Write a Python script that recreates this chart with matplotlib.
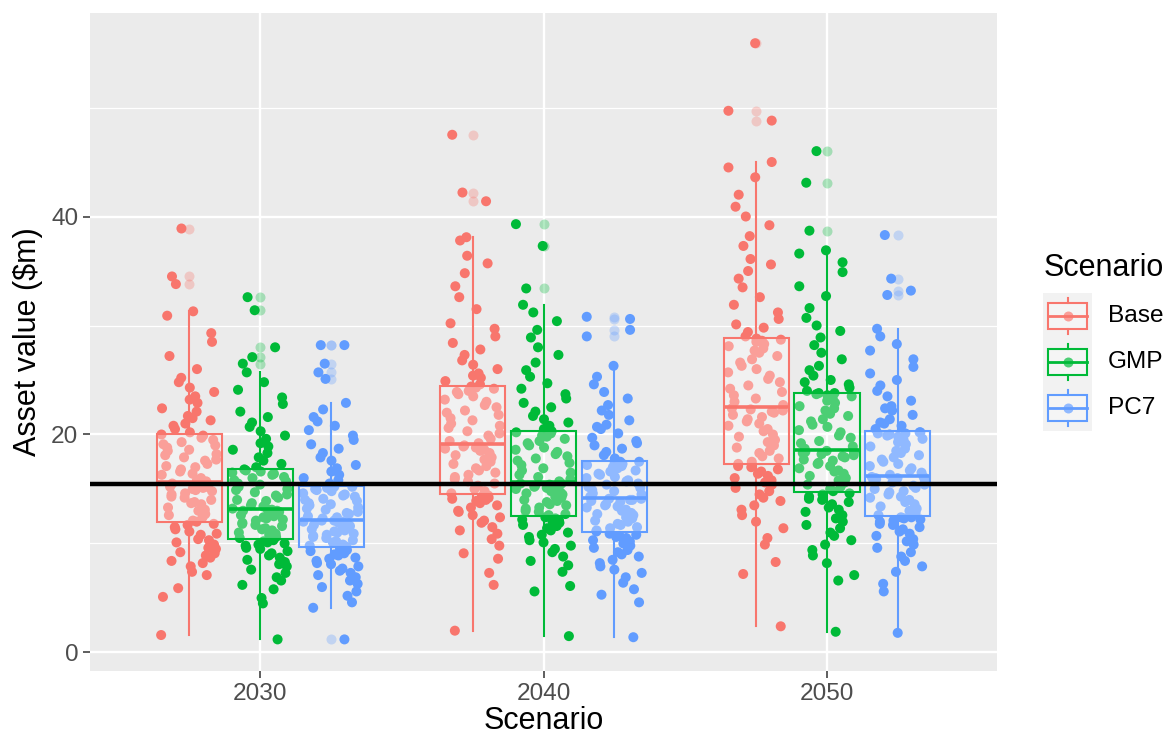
import numpy as np
import matplotlib
matplotlib.use('Agg')
import matplotlib.pyplot as plt
from matplotlib.patches import Rectangle

plt.rcParams['font.family'] = ['Liberation Sans', 'DejaVu Sans']

# ---- data ----
years = ['2030', '2040', '2050']
scenarios = ['Base', 'GMP', 'PC7']
colors = ['#F8766D', '#00BA38', '#619CFF']
threshold = 15.5

base_2030 = [1.6, 5.1, 5.9, 7.1, 7.4, 7.9, 8.2, 8.4, 8.7, 8.9, 9.1, 9.2, 9.5, 9.6, 9.9, 10.1, 10.3, 10.4, 10.8, 10.9,
             11.1, 11.3, 11.5, 11.7, 11.8, 12.0, 12.1, 12.4, 12.6, 12.7, 13.0, 13.1, 13.3, 13.6, 13.7, 13.8, 14.0, 14.2,
             14.3, 14.5, 14.6, 14.8, 14.9, 15.0, 15.1, 15.2, 15.2, 15.3, 15.4, 15.5, 15.7, 15.8, 16.0, 16.3, 16.4, 16.6,
             16.8, 17.0, 17.1, 17.3, 17.6, 17.7, 17.9, 18.1, 18.2, 18.5, 18.6, 18.8, 19.0, 19.1, 19.3, 19.5, 19.7, 19.9,
             20.0, 20.2, 20.5, 20.8, 21.0, 21.3, 21.5, 21.7, 22.1, 22.4, 22.9, 23.2, 23.5, 23.9, 24.3, 24.8, 25.2, 26.0,
             27.2, 28.5, 29.3, 30.9, 31.3, 33.8, 34.5, 38.9]
base_2040 = [2.0, 6.2, 7.3, 8.6, 9.1, 9.8, 10.4, 10.9, 11.2, 11.5, 11.9, 12.1, 12.4, 12.6, 12.9, 13.0, 13.3, 13.5, 13.7,
             13.9, 14.0, 14.1, 14.2, 14.3, 14.4, 14.6, 14.8, 15.0, 15.3, 15.5, 15.7, 15.9, 16.1, 16.3, 16.5, 16.7, 16.9,
             17.1, 17.3, 17.5, 17.7, 17.9, 18.1, 18.3, 18.5, 18.6, 18.7, 18.8, 18.9, 19.0, 19.2, 19.4, 19.6, 19.9, 20.1,
             20.3, 20.6, 20.8, 21.0, 21.3, 21.5, 21.8, 22.0, 22.2, 22.5, 22.7, 23.0, 23.2, 23.5, 23.7, 23.9, 24.0, 24.2,
             24.3, 24.4, 24.6, 24.9, 25.2, 25.4, 25.6, 26.0, 26.4, 26.8, 27.3, 27.8, 28.4, 29.0, 29.7, 30.2, 31.5, 32.6,
             33.6, 34.8, 35.7, 36.4, 37.8, 38.1, 41.4, 42.2, 47.5]
base_2050 = [2.4, 7.2, 8.3, 9.9, 10.5, 11.4, 12.0, 12.6, 13.1, 13.5, 13.9, 14.2, 14.5, 14.8, 15.1, 15.4, 15.6, 15.8, 16.0,
             16.2, 16.4, 16.6, 16.8, 17.0, 17.1, 17.3, 17.5, 17.8, 18.0, 18.3, 18.5, 18.8, 19.0, 19.3, 19.5, 19.8, 20.0,
             20.3, 20.5, 20.8, 21.0, 21.2, 21.4, 21.6, 21.8, 22.0, 22.1, 22.2, 22.3, 22.4, 22.7, 23.0, 23.3, 23.6, 23.9,
             24.2, 24.5, 24.8, 25.1, 25.4, 25.7, 26.0, 26.3, 26.6, 26.9, 27.2, 27.5, 27.7, 27.9, 28.1, 28.3, 28.5, 28.6,
             28.7, 28.8, 29.0, 29.4, 29.8, 30.1, 30.6, 31.2, 31.9, 32.6, 33.5, 34.3, 35.0, 35.6, 36.1, 37.3, 38.2, 39.2,
             40.0, 40.9, 42.0, 43.6, 44.5, 45.0, 48.8, 49.7, 55.9]
gmp_2030 = [1.2, 4.5, 5.0, 5.8, 6.2, 6.6, 6.9, 7.3, 7.6, 7.9, 8.1, 8.3, 8.5, 8.7, 8.9, 9.1, 9.3, 9.5, 9.6, 9.8, 9.9,
            10.0, 10.1, 10.2, 10.3, 10.5, 10.6, 10.8, 10.9, 11.0, 11.2, 11.3, 11.4, 11.6, 11.7, 11.8, 11.9, 12.1, 12.2,
            12.3, 12.4, 12.5, 12.6, 12.7, 12.8, 12.9, 13.0, 13.0, 13.1, 13.1, 13.2, 13.4, 13.5, 13.7, 13.9, 14.0, 14.2,
            14.4, 14.5, 14.7, 14.9, 15.0, 15.2, 15.4, 15.5, 15.7, 15.8, 16.0, 16.1, 16.3, 16.4, 16.5, 16.6, 16.7, 16.8,
            17.0, 17.3, 17.6, 17.9, 18.3, 18.6, 18.9, 19.2, 19.6, 19.9, 20.3, 20.7, 21.1, 21.6, 22.1, 22.8, 23.4, 24.1,
            24.8, 25.7, 26.5, 27.1, 28.0, 31.4, 32.6]
gmp_2040 = [1.5, 5.6, 6.1, 7.4, 8.0, 8.4, 8.8, 9.2, 9.5, 9.8, 10.1, 10.3, 10.6, 10.8, 11.0, 11.2, 11.4, 11.6, 11.7, 11.9,
            12.0, 12.1, 12.2, 12.3, 12.4, 12.6, 12.7, 12.9, 13.0, 13.2, 13.3, 13.5, 13.6, 13.8, 13.9, 14.0, 14.2, 14.3,
            14.5, 14.6, 14.7, 14.8, 14.9, 15.0, 15.1, 15.2, 15.3, 15.4, 15.5, 15.5, 15.7, 15.9, 16.1, 16.3, 16.5, 16.7,
            16.9, 17.2, 17.4, 17.6, 17.8, 18.0, 18.2, 18.4, 18.6, 18.8, 19.0, 19.2, 19.4, 19.6, 19.8, 19.9, 20.1, 20.2,
            20.3, 20.5, 20.8, 21.1, 21.4, 21.7, 22.1, 22.5, 22.9, 23.3, 23.7, 24.2, 24.7, 25.3, 25.9, 26.6, 27.3, 28.0,
            28.9, 29.6, 30.4, 31.2, 31.9, 33.4, 37.3, 39.3]
gmp_2050 = [1.9, 6.6, 7.1, 8.2, 8.9, 9.4, 9.9, 10.3, 10.7, 11.0, 11.4, 11.7, 12.0, 12.3, 12.6, 12.9, 13.1, 13.3, 13.6,
            13.8, 14.0, 14.1, 14.3, 14.5, 14.6, 14.8, 15.0, 15.2, 15.4, 15.6, 15.8, 16.0, 16.2, 16.4, 16.6, 16.7, 16.9,
            17.1, 17.3, 17.4, 17.6, 17.7, 17.9, 18.0, 18.1, 18.2, 18.3, 18.4, 18.4, 18.5, 18.7, 18.9, 19.2, 19.4, 19.7,
            19.9, 20.2, 20.4, 20.7, 20.9, 21.2, 21.4, 21.7, 21.9, 22.2, 22.4, 22.6, 22.9, 23.1, 23.3, 23.5, 23.6, 23.7,
            23.8, 23.8, 24.0, 24.3, 24.6, 24.8, 25.0, 25.4, 25.9, 26.3, 26.9, 27.5, 28.2, 28.9, 29.5, 30.0, 30.7, 31.6,
            32.7, 33.6, 34.9, 35.8, 36.6, 36.9, 38.7, 43.1, 46.0]
pc7_2030 = [1.2, 4.1, 4.6, 5.2, 5.6, 6.0, 6.3, 6.6, 6.9, 7.1, 7.3, 7.5, 7.7, 7.9, 8.1, 8.2, 8.4, 8.6, 8.7, 8.9, 9.0, 9.1,
            9.3, 9.4, 9.5, 9.7, 9.8, 9.9, 10.1, 10.2, 10.3, 10.5, 10.6, 10.7, 10.8, 10.9, 11.0, 11.1, 11.2, 11.3, 11.4,
            11.5, 11.6, 11.7, 11.8, 11.9, 12.0, 12.0, 12.1, 12.1, 12.3, 12.4, 12.5, 12.7, 12.8, 12.9, 13.1, 13.2, 13.3,
            13.5, 13.6, 13.7, 13.9, 14.0, 14.1, 14.3, 14.4, 14.5, 14.6, 14.8, 14.9, 15.0, 15.1, 15.2, 15.2, 15.5, 15.8,
            16.0, 16.3, 16.6, 16.9, 17.2, 17.6, 17.9, 18.3, 18.7, 19.1, 19.5, 19.9, 20.4, 20.8, 21.2, 21.6, 22.3, 22.9,
            25.1, 25.7, 26.5, 28.2, 28.2]
pc7_2040 = [1.4, 4.6, 5.3, 5.8, 6.4, 6.9, 7.3, 7.6, 7.9, 8.2, 8.5, 8.8, 9.0, 9.2, 9.4, 9.6, 9.8, 10.0, 10.2, 10.3, 10.5,
            10.6, 10.7, 10.8, 10.9, 11.1, 11.2, 11.4, 11.5, 11.7, 11.8, 12.0, 12.1, 12.3, 12.4, 12.6, 12.7, 12.8, 13.0,
            13.1, 13.3, 13.4, 13.5, 13.6, 13.8, 13.9, 14.0, 14.0, 14.1, 14.1, 14.3, 14.5, 14.6, 14.8, 14.9, 15.1, 15.2,
            15.4, 15.5, 15.7, 15.8, 16.0, 16.1, 16.3, 16.4, 16.6, 16.7, 16.9, 17.0, 17.1, 17.2, 17.3, 17.4, 17.5, 17.5,
            17.8, 18.1, 18.4, 18.7, 19.0, 19.2, 19.4, 19.7, 20.1, 20.5, 20.7, 20.9, 21.3, 21.8, 22.2, 22.7, 23.3, 23.9,
            24.6, 25.3, 26.3, 29.0, 29.6, 30.6, 30.8]
pc7_2050 = [1.8, 5.6, 6.3, 7.4, 7.9, 8.4, 8.8, 9.2, 9.6, 9.9, 10.2, 10.4, 10.7, 10.9, 11.1, 11.3, 11.5, 11.7, 11.8, 12.0,
            12.1, 12.2, 12.3, 12.4, 12.4, 12.6, 12.8, 13.0, 13.2, 13.4, 13.6, 13.8, 14.0, 14.2, 14.3, 14.5, 14.7, 14.8,
            15.0, 15.1, 15.3, 15.4, 15.6, 15.7, 15.8, 15.9, 16.0, 16.0, 16.1, 16.1, 16.3, 16.5, 16.7, 16.9, 17.1, 17.3,
            17.5, 17.7, 17.9, 18.1, 18.3, 18.5, 18.7, 18.9, 19.1, 19.3, 19.5, 19.6, 19.8, 19.9, 20.0, 20.1, 20.1, 20.2,
            20.2, 20.5, 20.8, 21.0, 21.1, 21.4, 21.8, 22.2, 22.4, 22.6, 23.1, 23.5, 24.0, 24.5, 25.0, 25.6, 26.2, 26.9,
            27.7, 28.3, 29.0, 29.7, 32.8, 33.2, 34.3, 38.3]

groups = {
    ('Base', '2030'): base_2030, ('Base', '2040'): base_2040, ('Base', '2050'): base_2050,
    ('GMP', '2030'): gmp_2030, ('GMP', '2040'): gmp_2040, ('GMP', '2050'): gmp_2050,
    ('PC7', '2030'): pc7_2030, ('PC7', '2040'): pc7_2040, ('PC7', '2050'): pc7_2050,
}

# ---- figure ----
W, H = 1170, 738
fig = plt.figure(figsize=(W / 100, H / 100), dpi=100)
ax = fig.add_axes([90.3 / W, 1 - 671 / H, 906.7 / W, (671 - 12.7) / H])
ax.set_facecolor('#EBEBEB')
for s in ax.spines.values():
    s.set_visible(False)

ax.set_xlim(0.4, 3.6)
ax.set_ylim(-1.7, 58.7)

# grid like ggplot
for v in [10, 30, 50]:
    ax.axhline(v, color='white', lw=0.9, zorder=0)
for v in [0, 20, 40]:
    ax.axhline(v, color='white', lw=1.7, zorder=0)
for i in range(len(years)):
    ax.axvline(i + 1, color='white', lw=1.7, zorder=0)

dodge = [-0.25, 0.0, 0.25]
jit = 0.1
box_w = 0.23

for j, sc in enumerate(scenarios):
    col = colors[j]
    for i, yr in enumerate(years):
        vals = np.array(groups[(sc, yr)])
        xc = i + 1 + dodge[j]
        # deterministic jitter (Weyl sequence on k^2, avoids a visible lattice)
        k = np.arange(len(vals)) + 7 * i + 3 * j
        offs = ((k * k * 0.6180339887 + k * 0.4142135) % 1.0 - 0.5) * 2 * jit
        ax.scatter(xc + offs, vals, s=52, color=col, edgecolors='none', zorder=2)

        ax.boxplot([vals], positions=[xc], widths=box_w, whis=1.5, patch_artist=True,
                   showcaps=False, manage_ticks=False, zorder=3,
                   boxprops=dict(facecolor=(1, 1, 1, 0.3), edgecolor=col, linewidth=1.5),
                   whiskerprops=dict(color=col, linewidth=1.5),
                   medianprops=dict(color=col, linewidth=2.6),
                   flierprops=dict(marker='o', markersize=7.2, markerfacecolor=col,
                                   markeredgecolor='none', alpha=0.3))

ax.axhline(threshold, color='black', lw=3.2, zorder=5)

ax.set_xticks([1, 2, 3])
ax.set_xticklabels(years)
ax.set_yticks([0, 20, 40])
ax.tick_params(axis='both', which='major', length=5, width=1.1, color='#333333',
               labelsize=17.6, labelcolor='#4D4D4D', pad=3.5)
ax.tick_params(axis='x', pad=4)
ax.set_xlabel('Scenario', fontsize=22, labelpad=0.5)
ax.set_ylabel('Asset value ($m)', fontsize=22, labelpad=6)

# ---- legend (drawn by hand, ggplot style keys) ----
key_top, key_h = 293, 46
lax = fig.add_axes([1043 / W, 1 - (key_top + 3 * key_h) / H, 49 / W, 3 * key_h / H])
lax.set_xlim(0, 1)
lax.set_ylim(0, 3)
lax.set_facecolor('#F2F2F2')
for s in lax.spines.values():
    s.set_visible(False)
lax.set_xticks([])
lax.set_yticks([])
for j, sc in enumerate(scenarios):
    col = colors[j]
    yb = 2 - j
    lax.plot([0.5], [yb + 0.5], 'o', color=col, markersize=7.2, markeredgecolor='none', zorder=2)
    lax.plot([0.5, 0.5], [yb + 0.1, yb + 0.22], color=col, lw=1.5, zorder=3)
    lax.plot([0.5, 0.5], [yb + 0.78, yb + 0.9], color=col, lw=1.5, zorder=3)
    lax.add_patch(Rectangle((0.1, yb + 0.22), 0.8, 0.56, facecolor=(1, 1, 1, 0.3),
                            edgecolor=col, lw=1.5, zorder=3))
    lax.plot([0.1, 0.9], [yb + 0.5, yb + 0.5], color=col, lw=2.0, zorder=4)
    fig.text(1108 / W, 1 - (key_top + key_h * (j + 0.5)) / H, sc, fontsize=17.6,
             ha='left', va='center')

fig.text(1044 / W, 1 - 268 / H, 'Scenario', fontsize=22, ha='left', va='center')

fig.savefig('out.png', dpi=100)
